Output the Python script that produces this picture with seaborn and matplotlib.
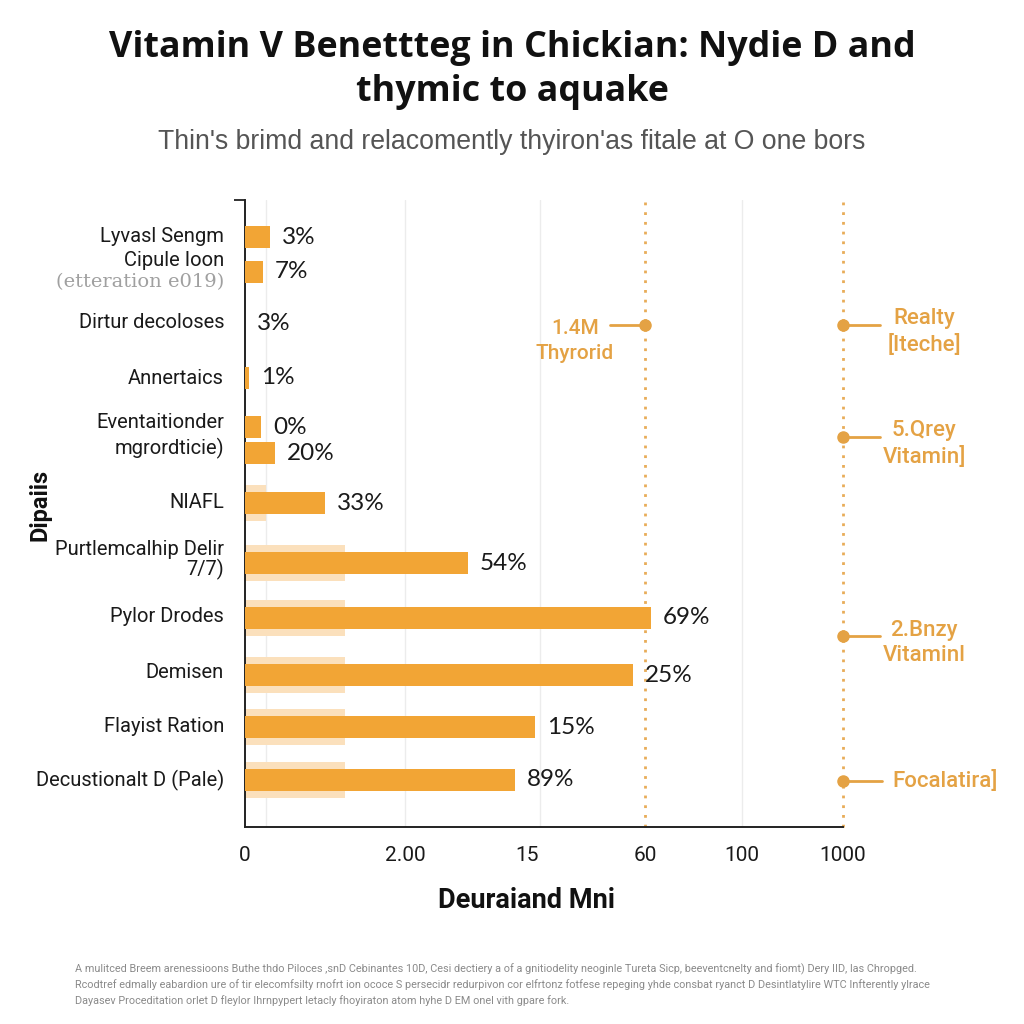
import matplotlib
matplotlib.use('Agg')
import matplotlib.pyplot as plt
import seaborn as sns
import pandas as pd
import numpy as np

sns.set_theme(style='white')
plt.rcParams['font.family'] = ['Roboto', 'DejaVu Sans']

# data (bar lengths in axis units 0-100)
rows = ['Lyvasl Sengm', 'Cipule Ioon', 'Dirtur decoloses', 'Annertaics',
        'Eventaitionder', 'mgrordticie)', 'NIAFL', 'Purtlemcalhip Delir\n7/7)',
        'Pylor Drodes', 'Demisen', 'Flayist Ration', 'Decustionalt D (Pale)']
bar_len = [4.2, 3.0, 0.0, 0.6, 2.7, 5.0, 13.4, 37.3, 67.9, 64.9, 48.5, 45.2]
pct_labels = ['3%', '7%', '3%', '1%', '0%', '20%', '33%', '54%', '69%', '25%', '15%', '89%']
pale_rows = ['NIAFL', 'Purtlemcalhip Delir\n7/7)', 'Pylor Drodes', 'Demisen',
             'Flayist Ration', 'Decustionalt D (Pale)']
pale_len = [3.5, 16.7, 16.7, 16.7, 16.7, 16.7]
xtick_vals = [0, 26.8, 47.2, 67, 83, 100]
xtick_labels = ['0', '2.00', '15', '60', '100', '1000']
callout_text = ['1.4M\nThyrorid', 'Realty\n[Iteche]', '5.Qrey\nVitamin]',
                '2.Bnzy\nVitaminl', 'Focalatira]']

# layout (row centres in pixels from top, axis spans 200..827)
row_y = [237, 272, 323, 378, 427, 453, 503, 563, 618, 675, 727, 780]
label_y = [237, 260, 323, 378, 423, 448, 503, 560, 616, 673, 727, 780]
pale_y = [row_y[rows.index(r)] for r in pale_rows]

orange = '#F2A535'
pale = '#FBE0BC'
note_col = '#E4A244'

df = pd.DataFrame({'row': rows, 'val': bar_len, 'y': row_y})
df_pale = pd.DataFrame({'row': pale_rows, 'val': pale_len, 'y': pale_y})

fig = plt.figure(figsize=(10.24, 10.24), dpi=100)
fig.patch.set_facecolor('white')
ax = fig.add_axes([245/1024, 1-827/1024, 598/1024, 627/1024])

# grid and dotted reference lines
for gx in [3.5, 26.8, 49.3, 83.1]:
    ax.axvline(gx, color='#ececec', lw=1, zorder=0)
for gx in [66.9, 100]:
    ax.axvline(gx, color='#E8AC58', lw=2, ls=(0, (1, 2.5)), zorder=1, clip_on=False)

sns.barplot(data=df_pale, x='val', y='y', orient='y', native_scale=True,
            width=0.71, color=pale, saturation=1, linewidth=0, ax=ax, zorder=2)
sns.barplot(data=df, x='val', y='y', orient='y', native_scale=True,
            width=0.85, color=orange, saturation=1, linewidth=0, ax=ax, zorder=3)

ax.set_xlim(0, 100)
ax.set_ylim(827, 200)

# percent labels
for v, y, t in zip(bar_len, row_y, pct_labels):
    ax.text(v + 2.0, y, t, ha='left', va='center', fontsize=17.5, color='#1a1a1a',
            family=['Lato', 'DejaVu Sans'])

# row labels
for r, y in zip(rows, label_y):
    ax.text(-0.035, y, r, transform=ax.get_yaxis_transform(), ha='right', va='center',
            fontsize=14.5, color='#1a1a1a', linespacing=0.95, multialignment='right')
ax.text(-0.035, 282, '(etteration e019)', transform=ax.get_yaxis_transform(),
        ha='right', va='center', fontsize=14, color='#a0a0a0', family='DejaVu Serif')

# callouts
ax.plot([61.0, 66.9], [325, 325], color=note_col, lw=2, clip_on=False, zorder=4)
ax.plot([66.9], [325], 'o', color=note_col, ms=8, clip_on=False, zorder=4)
ax.text(55.2, 341, callout_text[0], ha='center', va='center', fontsize=15,
        color=note_col, fontweight='medium', linespacing=1.35)
for y, t in zip([325, 437, 636], callout_text[1:4]):
    ax.plot([100, 106.2], [y, y], color=note_col, lw=2, clip_on=False, zorder=4)
    ax.plot([100], [y], 'o', color=note_col, ms=8, clip_on=False, zorder=4)
    ax.text(113.6, y + 7, t, ha='center', va='center', fontsize=16, color=note_col,
            fontweight='medium', linespacing=1.25, clip_on=False)
ax.plot([100, 106.5], [781, 781], color=note_col, lw=2, clip_on=False, zorder=4)
ax.plot([100], [781], 'o', color=note_col, ms=8, clip_on=False, zorder=4)
ax.text(108.3, 781, callout_text[4], ha='left', va='center', fontsize=16,
        color=note_col, fontweight='medium', clip_on=False)

# axes styling
ax.set_yticks([])
ax.set_yticks([200], minor=True)
ax.set_xticks(xtick_vals)
ax.set_xticklabels(xtick_labels, fontsize=15, color='#1a1a1a')
ax.set_xticks([0, 100], minor=True)
ax.tick_params(axis='x', which='major', length=0, pad=14)
ax.tick_params(axis='x', which='minor', length=9, width=1.3, color='#222', direction='out', bottom=True)
ax.tick_params(axis='y', which='minor', length=8, width=1.3, color='#222', direction='out', left=True)
ax.set_xlabel('')
ax.set_ylabel('')
for s in ['top', 'right']:
    ax.spines[s].set_visible(False)
for s in ['left', 'bottom']:
    ax.spines[s].set_color('#222')
    ax.spines[s].set_linewidth(1.4)

# titles and axis labels
fig.text(0.5, 1-70/1024, 'Vitamin V Benettteg in Chickian: Nydie D and\nthymic to aquake',
         ha='center', va='center', fontsize=25.8, fontweight='bold', color='#111',
         linespacing=1.3, family=['Open Sans', 'DejaVu Sans'])
fig.text(0.5, 1-142/1024, "Thin's brimd and relacomently thyiron'as fitale at O one bors",
         ha='center', va='center', fontsize=19.2, color='#555',
         family=['Liberation Sans', 'DejaVu Sans'])
fig.text(40/1024, 1-505/1024, 'Dipaiis', rotation=90, ha='center', va='center',
         fontsize=17, fontweight='bold', color='#111')
fig.text(527/1024, 1-900/1024, 'Deuraiand Mni', ha='center', va='center',
         fontsize=19.5, fontweight='bold', color='#111')

footer = ['A mulitced Breem arenessioons Buthe thdo Piloces ,snD Cebinantes 10D, Cesi dectiery a of a gnitiodelity neoginle Tureta Sicp, beeventcnelty and fiomt) Dery IID, las Chropged.',
          'Rcodtref edmally eabardion ure of tir elecomfsilty rnofrt ion ococe S persecidr redurpivon cor elfrtonz fotfese repeging yhde consbat ryanct D Desintlatylire WTC Infterently ylrace',
          'Dayasev Proceditation orlet D fleylor Ihrnpypert letacly fhoyiraton atom hyhe D EM onel vith gpare fork.']
for i, line in enumerate(footer):
    fig.text(75/1024, 1-(969 + 16*i)/1024, line, ha='left', va='center',
             fontsize=7.8, color='#8a8a8a')

fig.savefig('out.png', dpi=100, facecolor='white')
